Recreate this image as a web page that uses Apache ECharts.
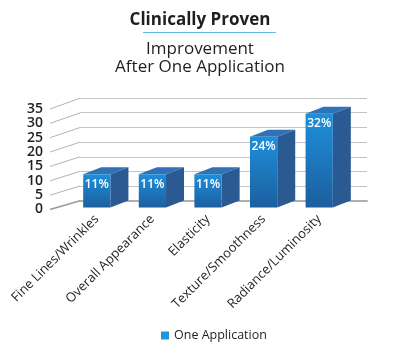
<!DOCTYPE html>
<html>
<head>
<meta charset="utf-8">
<script src="https://cdn.jsdelivr.net/npm/echarts@6/dist/echarts.min.js"></script>
<style>
  html, body { margin: 0; padding: 0; background: #ffffff; }
  #chart { width: 400px; height: 350px; }
</style>
</head>
<body>
<div id="chart"></div>
<script>
// Chart data
const categories = ['Fine Lines/Wrinkles', 'Overall Appearance', 'Elasticity', 'Texture/Smoothness', 'Radiance/Luminosity'];
const improvement = [11, 11, 11, 24, 32];
const seriesName = 'One Application';
const axisTicks = [0, 5, 10, 15, 20, 25, 30, 35];

const FONT = '"Open Sans", Roboto, sans-serif';
const DEPTH_X = 18;   // depth of each box, horizontal
const DEPTH_Y = -7;   // depth of each box, vertical

const chart = echarts.init(document.getElementById('chart'), null, { renderer: 'canvas' });

// 3D-looking box: front face + side face + top face
function renderBox(params, api) {
  const idx = api.value(0);
  const val = api.value(1);
  const top = api.coord([idx, val]);
  const base = api.coord([idx, 0]);
  const w = api.size([1, 0])[0] * 0.49;
  const x0 = top[0] - w / 2, x1 = top[0] + w / 2;
  const yT = top[1], yB = base[1] + 1.5;
  return {
    type: 'group',
    children: [
      {
        type: 'polygon',
        shape: { points: [[x1, yT], [x1 + DEPTH_X, yT + DEPTH_Y], [x1 + DEPTH_X, yB + DEPTH_Y], [x1, yB]] },
        style: { fill: '#2a5a91' }
      },
      {
        type: 'polygon',
        shape: { points: [[x0, yT], [x1, yT], [x1 + DEPTH_X, yT + DEPTH_Y], [x0 + DEPTH_X, yT + DEPTH_Y]] },
        style: { fill: '#2f72b6' }
      },
      {
        type: 'rect',
        shape: { x: x0, y: yT, width: w, height: yB - yT },
        style: {
          fill: new echarts.graphic.LinearGradient(0, 0, 0, 1, [
            { offset: 0, color: '#1e8fda' },
            { offset: 1, color: '#1c5f9f' }
          ])
        }
      },
      {
        type: 'text',
        x: top[0], y: yT + 10,
        style: {
          text: val + '%', fill: '#ffffff', font: '600 12px ' + FONT,
          align: 'center', verticalAlign: 'middle'
        }
      }
    ]
  };
}

// Diagonal leader lines from the tick labels to the back wall
function renderLeaders(params, api) {
  const v = api.value(0);
  const a = api.coord([0, v]);
  const b = api.coord([1, v]);
  return {
    type: 'line',
    shape: { x1: a[0], y1: a[1], x2: b[0], y2: b[1] - 8.8 - v * 0.055 },
    style: { stroke: v === 0 ? '#9a9a9a' : '#b4b4b4', lineWidth: v === 0 ? 1.5 : 1 }
  };
}

const option = {
  backgroundColor: '#ffffff',
  animation: false,
  title: [
    {
      text: 'Clinically Proven',
      left: 'center', top: 7,
      textStyle: { fontFamily: FONT, fontSize: 17, fontWeight: 'bold', color: '#1f1f1f' }
    },
    {
      text: 'Improvement\nAfter One Application',
      left: 'center', top: 35,
      textStyle: { fontFamily: FONT, fontSize: 17, fontWeight: 'normal', color: '#1f1f1f', lineHeight: 18 }
    }
  ],
  graphic: [
    {
      type: 'line',
      shape: { x1: 143, y1: 32.5, x2: 276, y2: 32.5 },
      style: { stroke: '#5fb8e6', lineWidth: 1 }
    }
  ],
  legend: {
    bottom: 3, left: 156,
    icon: 'rect', itemWidth: 8, itemHeight: 8, itemGap: 5,
    textStyle: { fontFamily: FONT, fontSize: 12.5, color: '#1f1f1f' },
    data: [seriesName]
  },
  grid: [
    // front plane: boxes
    { left: 69, right: 53, top: 105, bottom: 144 },
    // back wall
    { left: 80, right: 33, top: 98, bottom: 149 },
    // tick label plane
    { left: 50, width: 30, top: 109, bottom: 140.5 }
  ],
  xAxis: [
    {
      gridIndex: 0, type: 'category', data: categories,
      axisLine: { show: false }, axisTick: { show: false },
      axisLabel: {
        rotate: 45, margin: 11, interval: 0,
        fontFamily: FONT, fontSize: 13, color: '#1f1f1f'
      }
    },
    {
      gridIndex: 1, type: 'value', min: 0, max: 1, show: true,
      axisLine: { show: true, lineStyle: { color: '#b0b0b0', width: 2 } },
      axisTick: { show: false }, axisLabel: { show: false }, splitLine: { show: false }
    },
    {
      gridIndex: 2, type: 'value', min: 0, max: 1, show: false
    }
  ],
  yAxis: [
    {
      gridIndex: 0, type: 'value', min: 0, max: 35, interval: 5, show: false
    },
    {
      gridIndex: 1, type: 'value', min: 0, max: 35, interval: 5,
      axisLine: { show: false }, axisTick: { show: false }, axisLabel: { show: false },
      splitLine: { show: true, lineStyle: { color: '#c4c4c4', width: 1 } }
    },
    {
      gridIndex: 2, type: 'value', min: 0, max: 35, interval: 5,
      axisLine: { show: false }, axisTick: { show: false }, splitLine: { show: false },
      axisLabel: { margin: 7, fontFamily: FONT, fontSize: 14, fontWeight: 600, color: '#1f1f1f' }
    }
  ],
  series: [
    {
      type: 'custom', name: 'leaders',
      xAxisIndex: 2, yAxisIndex: 2,
      renderItem: renderLeaders,
      data: axisTicks.map(v => [v]),
      encode: { y: 0 },
      silent: true, z: 1
    },
    {
      type: 'custom', name: seriesName,
      xAxisIndex: 0, yAxisIndex: 0,
      itemStyle: { color: '#1a9ad9' },
      renderItem: renderBox,
      data: improvement.map((v, i) => [i, v]),
      encode: { x: 0, y: 1 },
      z: 3
    }
  ]
};

chart.setOption(option);
</script>
</body>
</html>
